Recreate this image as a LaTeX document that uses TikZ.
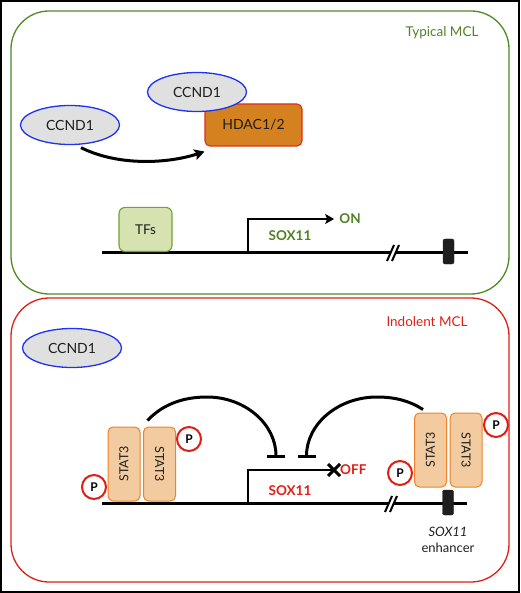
\documentclass[tikz,border=0pt]{standalone}
\usepackage{fontspec}
\setmainfont{Lato}
\usetikzlibrary{arrows.meta,shapes.geometric}
\definecolor{grn}{RGB}{78,140,32}
\definecolor{grntxt}{RGB}{80,130,35}
\definecolor{rd}{RGB}{225,30,20}
\definecolor{ellfill}{RGB}{224,224,224}
\definecolor{ellblue}{RGB}{30,50,240}
\definecolor{hdacfill}{RGB}{212,130,32}
\definecolor{hdacline}{RGB}{225,45,25}
\definecolor{tffill}{RGB}{214,226,176}
\definecolor{tfline}{RGB}{110,165,50}
\definecolor{statfill}{RGB}{242,204,160}
\definecolor{statline}{RGB}{238,130,40}
\definecolor{txt}{RGB}{30,30,30}
\tikzset{
  panel/.style={line width=1.3pt, rounded corners=38pt},
  ccnd/.style={ellipse, draw=ellblue, fill=ellfill, line width=1.3pt, minimum width=99pt, minimum height=39pt, inner sep=0pt, font=\fontsize{14}{16}\selectfont, text=txt},
  hdacbox/.style={draw=hdacline, fill=hdacfill, line width=1.1pt, rounded corners=5pt, minimum width=97pt, minimum height=42pt, inner sep=0pt, font=\fontsize{14}{16}\selectfont, text=txt},
  tfbox/.style={draw=tfline, fill=tffill, line width=1.1pt, rounded corners=6pt, minimum width=53pt, minimum height=44pt, inner sep=0pt, font=\fontsize{13.5}{16}\selectfont, text=txt},
  statbox/.style={draw=statline, fill=statfill, line width=1pt, rounded corners=5pt, minimum width=32pt, minimum height=74pt, inner sep=0pt},
  stattxt/.style={font=\fontsize{12.5}{14}\selectfont, text=txt, inner sep=0pt},
  pcirc/.style={circle, draw=rd, fill=white, line width=2pt, minimum size=24pt, inner sep=0pt, font=\bfseries\fontsize{12}{14}\selectfont},
  dna/.style={line width=3pt},
  enh/.style={fill=txt, draw=txt, rounded corners=2pt, minimum width=11pt, minimum height=25pt, inner sep=0pt},
  genetxt/.style={font=\bfseries\fontsize{13.5}{16}\selectfont, inner sep=0pt},
  paneltitle/.style={font=\fontsize{13.5}{16}\selectfont, inner sep=0pt},
  thickarrow/.style={line width=3pt, -{Stealth[length=10pt,width=11pt,inset=2pt]}},
  inhib/.style={line width=3pt, -{Bar[width=18pt]}},
  prom/.style={line width=2.6pt}
}
\begin{document}
\begin{tikzpicture}[x=1pt,y=-1pt]
\useasboundingbox (0,0) rectangle (520,593);
\draw[line width=2pt] (1,1) rectangle (519,592);
% panels
\draw[panel, draw=grn] (11,11) rectangle (509,294);
\draw[panel, draw=rd] (11,298) rectangle (509,582);
\node[paneltitle, text=grntxt] (t1) at (442,33) {Typical MCL};
\node[paneltitle, text=rd] (t2) at (427,322) {Indolent MCL};

% ---------- top panel ----------
\node[ccnd] (c2) at (70,125) {CCND1};
\node[hdacbox] (hdac) at (253.5,125) {HDAC1/2};
\node[ccnd] (c1) at (197,92) {CCND1};
\draw[thickarrow] ([xshift=11pt,yshift=-2.5pt]c2.south) .. controls (120,167) and (170,163) .. ([yshift=-5pt]hdac.south west);

\coordinate (d1s) at (102,252);
\coordinate (d1e) at (468,252);
\draw[dna] (d1s) -- (d1e);
\node[tfbox, anchor=south] (tf) at (145.5,252) {TFs};
\coordinate (p1) at (248,253.5);
\node[genetxt, text=grntxt] (on) at (350,219) {ON};
\draw[prom, -{Stealth[length=9pt,width=10pt,inset=2pt]}] (p1) |- ([xshift=-5pt]on.west);
\node[genetxt, text=grntxt] (sox1) at (290,236) {SOX11};
\coordinate (b1) at (393,253);
\fill[white] ([shift={(-6.5,8)}]b1) -- ([shift={(1.5,-8)}]b1) -- ([shift={(6.5,-8)}]b1) -- ([shift={(-1.5,8)}]b1) -- cycle;
\draw[line width=2pt] ([shift={(-6,8)}]b1) -- ([shift={(1,-8)}]b1);
\draw[line width=2pt] ([shift={(-1,8)}]b1) -- ([shift={(6,-8)}]b1);
\node[enh] (e1) at (448.5,251.5) {};

% ---------- bottom panel ----------
\node[ccnd] (c3) at (72,348) {CCND1};
\coordinate (d2s) at (102,503);
\coordinate (d2e) at (467,503);
\draw[dna] (d2s) -- (d2e);

\node[statbox] (s1) at (124,464) {};
\node[statbox] (s2) at (159.5,464) {};
\node[stattxt, rotate=90] at (s1) {STAT3};
\node[stattxt, rotate=-90] at (s2) {STAT3};
\node[pcirc] (pa) at (94,487) {P};
\node[pcirc] (pb) at (189,439) {P};

\node[statbox] (s3) at (430.5,450) {};
\node[statbox] (s4) at (466,450) {};
\node[stattxt, rotate=90] at (s3) {STAT3};
\node[stattxt, rotate=-90] at (s4) {STAT3};
\node[pcirc] (pc) at (400,473) {P};
\node[pcirc] (pd) at (496,425) {P};

\coordinate (p2) at (248,504.5);
\coordinate (x2) at (334,470);
\draw[prom] (p2) |- (x2);
\draw[line width=3pt] ([shift={(-6,-6)}]x2) -- ([shift={(6,6)}]x2);
\draw[line width=3pt] ([shift={(-6,6)}]x2) -- ([shift={(6,-6)}]x2);
\node[genetxt, text=rd, anchor=west] (off) at (340,470) {OFF};
\node[genetxt, text=rd] (sox2) at (290,491) {SOX11};

\coordinate (ia) at (276,458);
\coordinate (ib) at (306.5,458);
\draw[inhib] ([xshift=-12pt,yshift=6pt]s2.north) .. controls (162,405) and (182,397) .. (207,397) .. controls (245,397) and (276,424) .. (ia);
\draw[inhib] ([xshift=-7.5pt,yshift=3pt]s3.north) .. controls (410,401) and (395,397) .. (377,397) .. controls (338,397) and (306.5,424) .. (ib);

\coordinate (b2) at (391,504);
\fill[white] ([shift={(-6.5,8)}]b2) -- ([shift={(1.5,-8)}]b2) -- ([shift={(6.5,-8)}]b2) -- ([shift={(-1.5,8)}]b2) -- cycle;
\draw[line width=2pt] ([shift={(-6,8)}]b2) -- ([shift={(1,-8)}]b2);
\draw[line width=2pt] ([shift={(-1,8)}]b2) -- ([shift={(6,-8)}]b2);
\node[enh] (e2) at (448,502.5) {};
\node[font=\itshape\fontsize{13}{15}\selectfont, text=txt, inner sep=0pt] (enl1) at (448,532) {SOX11};
\node[font=\fontsize{13}{15}\selectfont, text=txt, inner sep=0pt] (enl2) at (448,548) {enhancer};
\end{tikzpicture}
\end{document}
